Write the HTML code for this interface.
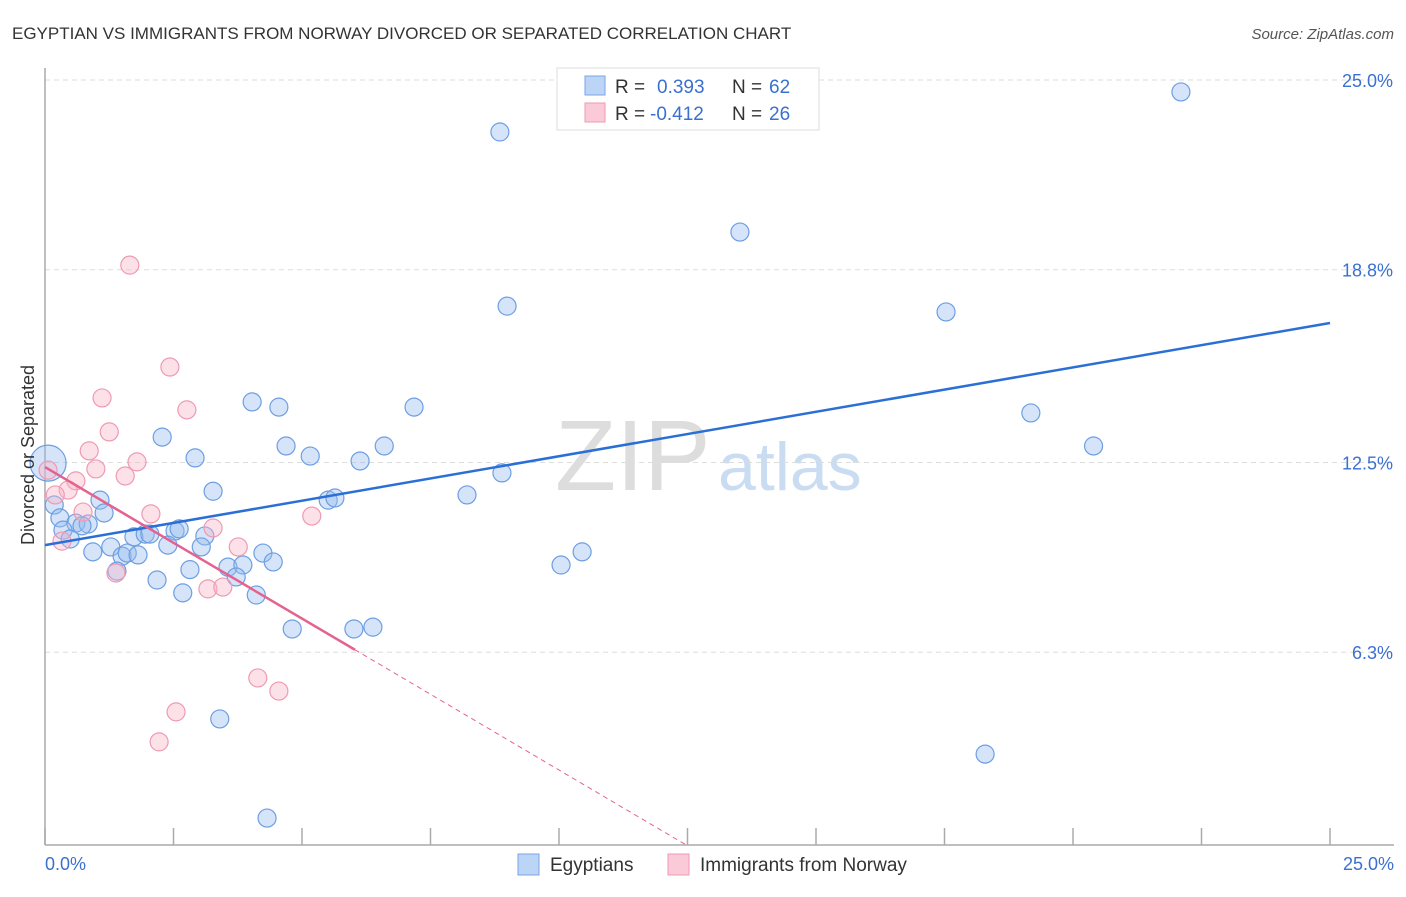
<!DOCTYPE html>
<html><head><meta charset="utf-8"><style>
body{margin:0;background:#fff;font-family:"Liberation Sans",sans-serif}
svg text{font-family:"Liberation Sans",sans-serif}
</style></head><body>
<svg width="1406" height="892" xmlns="http://www.w3.org/2000/svg">
<text x="12" y="39" font-size="17" fill="#333">EGYPTIAN VS IMMIGRANTS FROM NORWAY DIVORCED OR SEPARATED CORRELATION CHART</text>
<text x="1394" y="39" font-size="15" fill="#555" font-style="italic" text-anchor="end">Source: ZipAtlas.com</text>
<text x="555" y="490" font-size="100" fill="#ddd" font-family="Liberation Serif">ZIP</text>
<text x="718" y="490" font-size="68" fill="#c9dcf2">atlas</text>
<g id="grid"></g>
<g id="axes"></g>
<g id="pts"></g>
<g id="lines"></g>
<text x="34" y="455" font-size="18" fill="#333" transform="rotate(-90 34 455)" text-anchor="middle">Divorced or Separated</text>
<text x="45" y="870" font-size="18" fill="#3a70d0">0.0%</text>
<text x="1394" y="870" font-size="18" fill="#3a70d0" text-anchor="end">25.0%</text>
<g>
<rect x="557" y="68" width="262" height="62" fill="#fff" stroke="#ddd"/>
<rect x="585" y="76" width="20" height="19" fill="#bcd4f5" stroke="#7aa5e8"/>
<rect x="585" y="103" width="20" height="19" fill="#fbcad8" stroke="#ef9ab3"/>
<text x="615" y="93" font-size="19" fill="#333">R = </text><text x="657" y="93" font-size="19" fill="#3a70d0">0.393</text>
<text x="732" y="93" font-size="19" fill="#333">N = </text><text x="769" y="93" font-size="19" fill="#3a70d0">62</text>
<text x="615" y="120" font-size="19" fill="#333">R = </text><text x="650" y="120" font-size="19" fill="#3a70d0">-0.412</text>
<text x="732" y="120" font-size="19" fill="#333">N = </text><text x="769" y="120" font-size="19" fill="#3a70d0">26</text>
</g>
<g>
<rect x="518" y="854" width="21" height="21" fill="#bcd4f5" stroke="#7aa5e8"/>
<text x="550" y="871" font-size="19" fill="#333">Egyptians</text>
<rect x="668" y="854" width="21" height="21" fill="#fbcad8" stroke="#ef9ab3"/>
<text x="700" y="871" font-size="19" fill="#333">Immigrants from Norway</text>
</g>
</svg>
<script>
const yTicks=[25.0,18.8,12.5,6.3];
const yTickLabels=["25.0%","18.8%","12.5%","6.3%"];
const xTicks=[0,2.5,5,7.5,10,12.5,15,17.5,20,22.5,25];
const blueX=[22.1,8.85,13.52,8.99,17.53,4.03,4.55,7.18,19.18,2.28,4.69,6.6,20.4,5.16,2.92,6.13,8.89,3.27,1.07,1.15,0.18,0.29,0.6,0.84,0.35,0.49,1.73,1.95,2.53,2.61,3.11,3.04,2.39,1.28,0.93,1.5,1.6,1.81,4.24,4.44,2.82,3.56,3.85,1.4,3.72,2.18,2.68,4.11,5.51,5.64,8.21,10.04,10.45,4.81,6.01,6.38,3.4,18.29,4.32,0.06,0.72,2.04];
const blueY=[24.61,23.3,20.03,17.61,17.42,14.48,14.31,14.31,14.12,13.33,13.04,13.04,13.04,12.71,12.65,12.55,12.16,11.56,11.27,10.85,11.11,10.69,10.52,10.49,10.29,10.0,10.07,10.16,10.26,10.33,10.1,9.74,9.8,9.74,9.58,9.44,9.54,9.48,9.54,9.25,9.0,9.08,9.15,8.95,8.76,8.66,8.24,8.17,11.27,11.34,11.44,9.15,9.58,7.06,7.06,7.12,4.12,2.97,0.88,12.48,10.43,10.16];
const blueR=[9,9,9,9,9,9,9,9,9,9,9,9,9,9,9,9,9,9,9,9,9,9,9,9,9,9,9,9,9,9,9,9,9,9,9,9,9,9,9,9,9,9,9,9,9,9,9,9,9,9,9,9,9,9,9,9,9,9,9,18,9,9];
const pinkX=[1.65,2.43,1.11,2.76,1.25,0.86,1.79,0.99,1.56,0.6,0.45,0.2,0.74,2.06,3.27,3.76,1.38,0.33,5.19,3.17,3.46,4.14,4.55,2.55,2.22,0.06];
const pinkY=[18.95,15.62,14.61,14.22,13.5,12.88,12.52,12.29,12.06,11.9,11.6,11.44,10.88,10.82,10.36,9.74,8.89,9.93,10.75,8.37,8.43,5.46,5.03,4.35,3.37,12.25];
const blueLine=[9.80,17.06];
const pinkLine=[12.35,-0.99];
const pinkSolidEnd=6.03;
const X=v=>45+v*51.4, Y=v=>845-v*30.6;
const NS="http://www.w3.org/2000/svg";
function mk(p,t,a){const e=document.createElementNS(NS,t);for(const k in a)e.setAttribute(k,a[k]);document.getElementById(p).appendChild(e);return e;}
yTicks.forEach((t,i)=>{
const g=mk('grid','line',{x1:45,x2:1394,y1:Y(t),y2:Y(t),stroke:'#ddd','stroke-dasharray':'5,4'});


const l=mk('grid','text',{x:1393,y:Y(t)+7,'font-size':18,fill:'#3a70d0','text-anchor':'end'});
l.textContent=yTickLabels[i];


});
const ax=mk('axes','line',{x1:45,x2:45,y1:68,y2:845,stroke:'#aaa','stroke-width':1.5});


const bx=mk('axes','line',{x1:45,x2:1394,y1:845,y2:845,stroke:'#aaa','stroke-width':1.5});


xTicks.forEach(t=>{
const k=mk('axes','line',{x1:X(t),x2:X(t),y1:828,y2:845,stroke:'#aaa','stroke-width':1.5});


});
blueX.forEach((v,i)=>{
const c=mk('pts','circle',{cx:X(v),cy:Y(blueY[i]),r:blueR[i],fill:'rgba(150,188,238,0.4)',stroke:'#6d9ee3','stroke-width':1.2});


});
pinkX.forEach((v,i)=>{
const c=mk('pts','circle',{cx:X(v),cy:Y(pinkY[i]),r:9,fill:'rgba(248,180,200,0.4)',stroke:'#ef9ab3','stroke-width':1.2});


});
const bl=mk('lines','line',{x1:X(0),y1:Y(blueLine[0]),x2:X(25),y2:Y(blueLine[0]+blueLine[1]*0+ (blueLine[1]-blueLine[0])),stroke:'#2a6fd6','stroke-width':2.5});


const pf=x=>pinkLine[0]+pinkLine[1]*x;
const pl=mk('lines','line',{x1:X(0),y1:Y(pf(0)),x2:X(pinkSolidEnd),y2:Y(pf(pinkSolidEnd)),stroke:'#e4628f','stroke-width':2.5});


const zx=-pinkLine[0]/pinkLine[1];
const pd=mk('lines','line',{x1:X(pinkSolidEnd),y1:Y(pf(pinkSolidEnd)),x2:X(zx),y2:Y(0),stroke:'#e4628f','stroke-width':1,'stroke-dasharray':'5,4'});


</script>
</body></html>
